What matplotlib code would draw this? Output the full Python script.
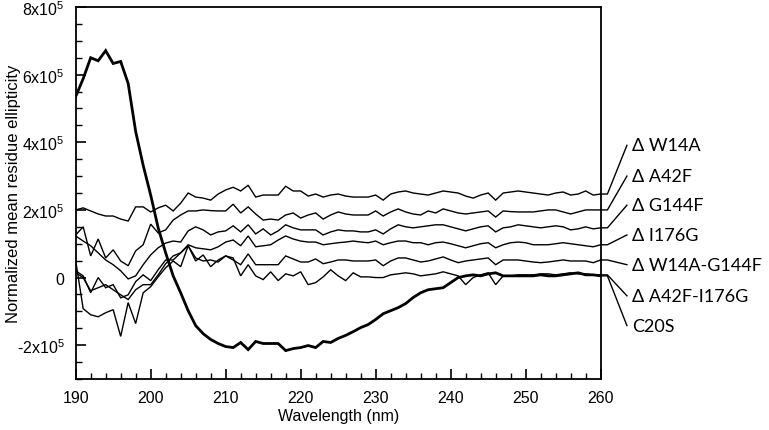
import matplotlib
matplotlib.use("Agg")
import matplotlib.pyplot as plt
from matplotlib.ticker import MultipleLocator, FixedLocator, FuncFormatter
import numpy as np

plt.rcParams['font.family'] = ['Liberation Sans', 'DejaVu Sans']
plt.rcParams['mathtext.fontset'] = 'custom'
plt.rcParams['mathtext.rm'] = 'Liberation Sans'
plt.rcParams['mathtext.it'] = 'Liberation Sans:italic'
plt.rcParams['mathtext.bf'] = 'Liberation Sans:bold'

SCALE = 1e5
wavelength = list(range(190, 261))

# values in units of 1e5
W14A = [2.0, 2.06, 1.97, 1.88, 1.82, 1.82, 1.73, 1.67, 2.09, 2.09,
        1.94, 2.06, 2.14, 1.97, 2.2, 2.5, 2.38, 2.35, 2.29, 2.47,
        2.59, 2.67, 2.56, 2.73, 2.38, 2.44, 2.44, 2.44, 2.7, 2.56,
        2.56, 2.41, 2.47, 2.38, 2.44, 2.47, 2.41, 2.38, 2.38, 2.38,
        2.44, 2.29, 2.47, 2.53, 2.56, 2.5, 2.47, 2.44, 2.5, 2.56,
        2.53, 2.5, 2.41, 2.35, 2.44, 2.5, 2.29, 2.5, 2.53, 2.56,
        2.53, 2.5, 2.47, 2.44, 2.5, 2.53, 2.44, 2.47, 2.56, 2.44, 2.47]
A42F = [1.26, 1.5, 0.64, 1.14, 0.58, 0.82, 0.49, 0.35, 0.79, 0.97,
        1.58, 1.32, 1.41, 1.7, 1.85, 1.97, 1.97, 2.0, 1.98, 1.97,
        1.97, 2.17, 1.91, 2.09, 1.88, 1.7, 1.73, 1.7, 1.85, 1.91,
        1.76, 1.85, 1.91, 1.73, 1.85, 1.94, 1.88, 1.85, 1.85, 1.85,
        1.97, 1.82, 1.94, 2.03, 1.94, 1.88, 1.85, 1.97, 1.91, 2.03,
        1.97, 1.91, 1.88, 1.91, 1.94, 1.97, 1.79, 1.97, 1.95, 1.94,
        1.94, 1.94, 1.97, 2.0, 2.0, 1.94, 1.88, 1.94, 2.0, 2.0, 2.0]
G144F = [1.23, 1.08, 0.94, 0.73, 0.52, 0.38, 0.2, -0.04, 0.05, 0.38,
         0.67, 0.88, 1.02, 1.08, 1.05, 1.38, 1.5, 1.41, 1.26, 1.35,
         1.38, 1.53, 1.35, 1.56, 1.29, 1.44, 1.26, 1.38, 1.56, 1.47,
         1.41, 1.41, 1.41, 1.26, 1.35, 1.41, 1.38, 1.38, 1.35, 1.35,
         1.41, 1.29, 1.44, 1.56, 1.5, 1.47, 1.5, 1.53, 1.56, 1.56,
         1.5, 1.44, 1.38, 1.44, 1.5, 1.53, 1.35, 1.47, 1.5, 1.56,
         1.53, 1.5, 1.47, 1.5, 1.53, 1.5, 1.41, 1.44, 1.5, 1.44, 1.47]
I176G = [0.2, 0.05, -0.45, 0.0, -0.3, -0.21, -0.6, -0.51, -0.12, 0.08,
         -0.09, 0.23, 0.52, 0.52, 0.73, 0.97, 0.88, 0.85, 0.82, 0.91,
         1.05, 1.11, 0.94, 1.23, 0.91, 0.94, 0.97, 1.11, 1.23, 1.14,
         1.08, 1.05, 1.05, 0.97, 1.0, 1.03, 1.05, 1.08, 1.05, 1.03,
         1.08, 0.97, 1.03, 1.08, 1.08, 1.03, 1.03, 0.97, 1.03, 1.05,
         1.0, 0.94, 0.88, 0.94, 1.0, 1.03, 0.88, 0.97, 1.03, 1.05,
         1.03, 0.97, 0.97, 0.97, 1.0, 1.03, 1.0, 0.97, 0.94, 0.91, 0.97]
W14A_G144F = [0.5, -0.92, -1.1, -1.16, -1.04, -0.95, -1.74, -0.74, -1.36, -0.45,
              -0.27, 0.02, 0.29, 0.49, 0.32, 0.94, 0.58, 0.49, 0.52, 0.46,
              0.64, 0.52, 0.38, 0.7, 0.38, 0.38, 0.38, 0.38, 0.64, 0.55,
              0.46, 0.46, 0.55, 0.41, 0.46, 0.52, 0.52, 0.49, 0.49, 0.49,
              0.52, 0.35, 0.49, 0.58, 0.58, 0.52, 0.46, 0.49, 0.55, 0.61,
              0.52, 0.44, 0.49, 0.52, 0.55, 0.58, 0.38, 0.52, 0.52, 0.52,
              0.49, 0.46, 0.44, 0.46, 0.49, 0.52, 0.49, 0.49, 0.49, 0.44, 0.52]
A42F_I176G = [0.14, 0.0, -0.39, -0.3, -0.21, -0.36, -0.51, -0.65, -0.36, -0.21,
              -0.21, 0.08, 0.41, 0.64, 0.73, 0.94, 0.49, 0.67, 0.32, 0.52,
              0.64, 0.58, 0.05, 0.38, 0.05, -0.06, 0.17, -0.09, 0.11, 0.05,
              0.17, -0.21, -0.15, 0.02, 0.23, 0.05, -0.09, 0.14, 0.02, 0.02,
              0.0, 0.0, 0.08, 0.11, 0.14, 0.11, 0.05, 0.08, 0.11, 0.17,
              0.11, 0.05, -0.21, 0.0, 0.08, 0.14, -0.21, 0.05, 0.05, 0.08,
              0.08, 0.08, 0.11, 0.11, 0.08, 0.11, 0.14, 0.11, 0.11, 0.08, 0.08]
C20S = [5.35, 5.88, 6.5, 6.41, 6.71, 6.33, 6.39, 5.74, 4.32, 3.32,
        2.44, 1.47, 0.73, 0.05, -0.45, -0.98, -1.42, -1.66, -1.83, -1.95,
        -2.04, -2.07, -1.92, -2.13, -1.89, -1.95, -1.95, -1.95, -2.16, -2.1,
        -2.07, -2.01, -2.07, -1.89, -1.92, -1.8, -1.71, -1.6, -1.48, -1.39,
        -1.24, -1.07, -0.98, -0.89, -0.77, -0.59, -0.45, -0.36, -0.33, -0.3,
        -0.15, 0.0, 0.05, 0.08, 0.05, 0.11, 0.14, 0.05, 0.05, 0.05,
        0.05, 0.05, 0.08, 0.05, 0.05, 0.08, 0.11, 0.14, 0.08, 0.08, 0.05]

series_names = ["Δ W14A", "Δ A42F", "Δ G144F", "Δ I176G",
                "Δ W14A-G144F", "Δ A42F-I176G", "C20S"]
series_values = [W14A, A42F, G144F, I176G, W14A_G144F, A42F_I176G, C20S]
label_y = [3.91, 3.0, 2.14, 1.26, 0.38, -0.54, -1.42]

y_major = [-2, 0, 2, 4, 6, 8]

fig = plt.figure(figsize=(7.69, 4.31), dpi=100)
ax = fig.add_axes([0.0984, 0.1183, 0.6827, 0.8631])

for name, vals in zip(series_names, series_values):
    lw = 2.0 if name == "C20S" else 1.0
    ax.plot(wavelength, np.array(vals) * SCALE, color='black', lw=lw,
            solid_joinstyle='miter')

ax.set_xlim(190, 260)
ax.set_ylim(-3e5, 8e5)

# leaders and labels
for name, vals, ly in zip(series_names, series_values, label_y):
    y_end = vals[-1] * SCALE
    ax.plot([260, 260.9, 263.5], [y_end, y_end, ly * SCALE], color='black',
            lw=1.0, clip_on=False)
    ax.text(264.2, ly * SCALE, name, ha='left', va='center', fontsize=13,
            family=['Lato', 'DejaVu Sans'], clip_on=False)

ax.xaxis.set_major_locator(MultipleLocator(10))
ax.xaxis.set_minor_locator(MultipleLocator(2))
ax.yaxis.set_major_locator(FixedLocator([v * SCALE for v in y_major]))
ax.yaxis.set_minor_locator(MultipleLocator(0.5e5))


def yfmt(v, pos):
    m = int(round(v / SCALE))
    if m == 0:
        return "0"
    return "%dx10$^{5}$" % m


ax.yaxis.set_major_formatter(FuncFormatter(yfmt))

ax.tick_params(axis='both', which='major', direction='in', length=7, width=1.2,
               labelsize=11.5, pad=8, top=False, right=False)
ax.tick_params(axis='both', which='minor', direction='in', length=4, width=1.0,
               top=False, right=False)
for s in ax.spines.values():
    s.set_linewidth(1.3)

ax.set_xlabel("Wavelength (nm)", fontsize=11.5, labelpad=2)
ax.set_ylabel("Normalized mean residue ellipticity", fontsize=12)
ax.yaxis.set_label_coords(-0.104, 0.5)

fig.savefig("out.png", dpi=100)
